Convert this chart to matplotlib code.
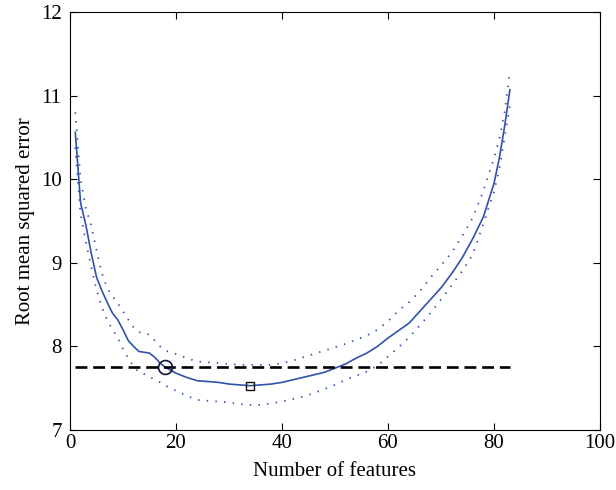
import matplotlib
matplotlib.use("Agg")
import matplotlib.pyplot as plt

plt.rcParams['font.family'] = ['Liberation Serif', 'DejaVu Serif']

features = [1, 2, 3, 4, 5, 6, 7, 8, 9, 10, 11, 12, 13, 14, 15, 16, 17, 18,
            20, 22, 24, 26, 28, 30, 32, 34, 36, 38, 40, 42, 44, 46, 48, 50,
            52, 54, 56, 58, 60, 62, 64, 66, 68, 70, 72, 74, 76, 78, 80, 81, 82, 83]

rmse_mean = [10.56, 9.72, 9.45, 9.12, 8.83, 8.67, 8.53, 8.40, 8.32, 8.20, 8.07, 8.00,
             7.94, 7.93, 7.92, 7.87, 7.80, 7.75, 7.68, 7.63, 7.59, 7.58, 7.57, 7.55,
             7.54, 7.53, 7.54, 7.55, 7.57, 7.60, 7.63, 7.66, 7.69, 7.74, 7.79, 7.86,
             7.92, 8.00, 8.10, 8.19, 8.28, 8.42, 8.56, 8.70, 8.87, 9.06, 9.29, 9.55,
             9.95, 10.25, 10.63, 11.07]

rmse_upper = [10.80, 10.00, 9.65, 9.45, 9.15, 8.88, 8.70, 8.60, 8.52, 8.42, 8.32, 8.23,
              8.17, 8.16, 8.14, 8.07, 8.00, 7.95, 7.91, 7.86, 7.82, 7.81, 7.80, 7.79,
              7.78, 7.78, 7.78, 7.78, 7.80, 7.83, 7.87, 7.91, 7.95, 7.99, 8.03, 8.08,
              8.13, 8.20, 8.30, 8.43, 8.53, 8.66, 8.82, 8.97, 9.12, 9.32, 9.54, 9.86,
              10.25, 10.48, 10.80, 11.30]

rmse_lower = [10.38, 9.58, 9.25, 8.95, 8.68, 8.47, 8.32, 8.20, 8.11, 7.97, 7.86, 7.76,
              7.69, 7.67, 7.64, 7.60, 7.57, 7.53, 7.47, 7.41, 7.36, 7.35, 7.34, 7.33,
              7.31, 7.30, 7.30, 7.32, 7.34, 7.37, 7.40, 7.44, 7.49, 7.54, 7.60, 7.65,
              7.70, 7.77, 7.88, 7.99, 8.11, 8.25, 8.40, 8.56, 8.73, 8.90, 9.10, 9.47,
              9.85, 10.12, 10.50, 10.88]

threshold = 7.75
best_one_se = (18, 7.75)
best_min = (34, 7.53)

blue = '#2f52aa'

fig = plt.figure(figsize=(6.16, 4.9), dpi=100)
ax = fig.add_axes([0.1136, 0.1224, 0.8604, 0.853])

ax.plot(features, rmse_mean, color=blue, lw=1.2)
ax.plot(features, rmse_upper, color=blue, lw=1.3, linestyle=(0, (0.8, 4.0)))
ax.plot(features, rmse_lower, color=blue, lw=1.3, linestyle=(0, (0.8, 4.0)))
ax.plot([features[0], features[-1]], [threshold, threshold], color='black',
        lw=1.9, linestyle=(0, (4.5, 2.2)))
ax.plot(*best_one_se, marker='o', markersize=10, markerfacecolor='none',
        markeredgecolor='#15153a', markeredgewidth=1.2)
ax.plot(*best_min, marker='s', markersize=6, markerfacecolor='none',
        markeredgecolor='#111111', markeredgewidth=1.0)

ax.set_xlim(0, 100)
ax.set_ylim(7, 12)
ax.set_xticks([0, 20, 40, 60, 80, 100])
ax.set_yticks([7, 8, 9, 10, 11, 12])
ax.tick_params(direction='in', top=True, right=True, length=5, labelsize=15)
ax.tick_params(axis='x', pad=3)
ax.tick_params(axis='y', pad=6)
ax.set_xlabel('Number of features', fontsize=15, labelpad=6)
ax.set_ylabel('Root mean squared error', fontsize=15, labelpad=4)

fig.savefig('out.png', dpi=100)
